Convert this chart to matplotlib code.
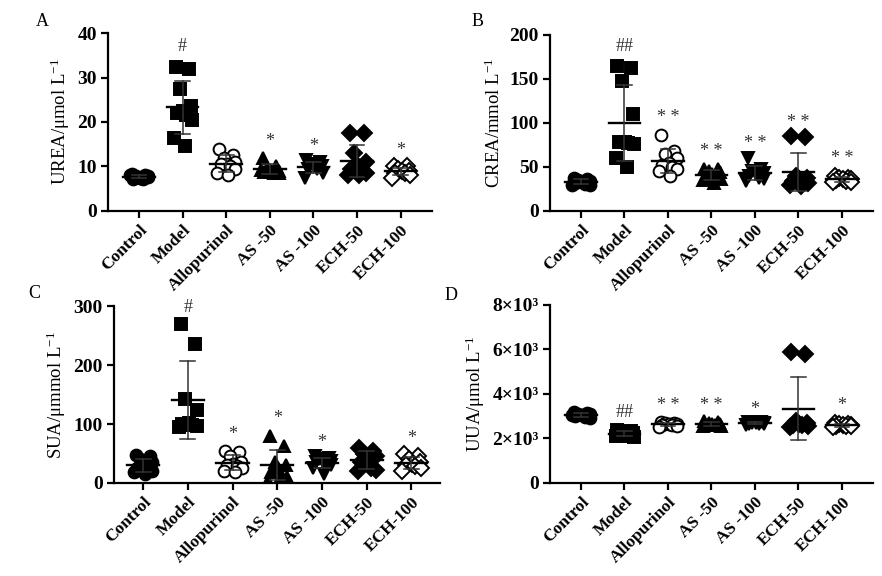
import matplotlib
matplotlib.use("Agg")
import matplotlib.pyplot as plt
import numpy as np

plt.rcParams['font.family'] = ['Liberation Serif', 'DejaVu Serif']
plt.rcParams['mathtext.fontset'] = 'custom'
plt.rcParams['mathtext.rm'] = 'Liberation Serif'
plt.rcParams['mathtext.it'] = 'Liberation Serif:italic'
plt.rcParams['mathtext.bf'] = 'Liberation Serif:bold'

groups = ["Control", "Model", "Allopurinol", "AS -50", "AS -100", "ECH-50", "ECH-100"]

# Panel A: UREA
urea = [
    [8.3, 8.0, 7.8, 7.6, 7.5, 7.3, 7.1, 7.9, 8.1, 7.4],
    [32.3, 32.0, 27.5, 23.5, 22.5, 22.0, 21.5, 20.5, 16.5, 14.5],
    [14.0, 12.5, 12.0, 11.0, 10.5, 10.5, 10.0, 9.5, 8.5, 8.0],
    [12.0, 10.0, 9.5, 9.0, 9.0, 8.8, 8.6, 8.5, 9.2],
    [11.5, 11.0, 10.5, 10.0, 10.0, 9.5, 9.5, 8.5, 7.5],
    [17.5, 17.5, 13.0, 11.0, 10.0, 9.5, 9.0, 8.5, 8.0, 8.0],
    [10.0, 10.0, 9.5, 9.0, 9.0, 8.5, 8.5, 8.0, 7.5],
]
urea_sig = ["", "#", "", "*", "*", "", "*"]
urea_sig_y = [0, 36.9, 0, 15.7, 14.6, 0, 13.5]

# Panel B: CREA
crea = [
    [38, 36, 35, 34, 33, 32, 31, 30, 30],
    [165, 163, 148, 110, 78, 78, 77, 76, 60, 50],
    [86, 68, 65, 60, 55, 52, 50, 48, 45, 40],
    [48, 48, 46, 44, 42, 40, 38, 36, 35, 32],
    [60, 48, 45, 43, 42, 40, 38, 36, 34],
    [85, 84, 40, 38, 36, 34, 33, 32, 30, 28],
    [40, 38, 37, 36, 36, 35, 34, 33, 33],
]
crea_sig = ["", "##", "* *", "* *", "* *", "* *", "* *"]
crea_sig_y = [0, 187, 106, 68, 77, 100, 60]

# Panel C: SUA
sua = [
    [48, 45, 40, 35, 30, 25, 22, 20, 18, 15],
    [270, 235, 142, 123, 101, 100, 99, 97, 95],
    [55, 52, 45, 35, 32, 30, 28, 25, 20, 18],
    [80, 62, 35, 30, 25, 18, 12, 10, 3],
    [45, 42, 40, 38, 36, 35, 33, 30, 25, 15],
    [60, 55, 50, 45, 40, 35, 25, 22, 20],
    [50, 45, 40, 35, 32, 30, 28, 25, 20],
]
sua_sig = ["", "#", "*", "*", "*", "", "*"]
sua_sig_y = [0, 297, 83, 110, 68, 0, 76]

# Panel D: UUA
uua = [
    [3200, 3150, 3100, 3100, 3050, 3000, 2950, 2900, 3050],
    [2400, 2350, 2300, 2250, 2200, 2150, 2100, 2050, 2100],
    [2750, 2700, 2700, 2650, 2650, 2600, 2600, 2550, 2500],
    [2800, 2750, 2700, 2650, 2650, 2600, 2600, 2550, 2550],
    [2750, 2720, 2700, 2700, 2680, 2660, 2650, 2640, 2620],
    [5900, 5800, 2800, 2700, 2650, 2600, 2600, 2550, 2500],
    [2700, 2650, 2650, 2600, 2600, 2580, 2550, 2550, 2500],
]
uua_sig = ["", "##", "* *", "* *", "*", "", "*"]
uua_sig_y = [0, 3190, 3460, 3460, 3325, 0, 3460]

markers = [
    dict(marker='o', mfc='black', mec='black'),
    dict(marker='s', mfc='black', mec='black'),
    dict(marker='o', mfc='white', mec='black'),
    dict(marker='^', mfc='black', mec='black'),
    dict(marker='v', mfc='black', mec='black'),
    dict(marker='D', mfc='black', mec='black'),
    dict(marker='D', mfc='white', mec='black'),
]
jitter = [-0.16, 0.15, -0.06, 0.2, 0.02, -0.13, 0.09, 0.21, -0.2, 0.05]

fig = plt.figure(figsize=(8.82, 5.76), dpi=100)

panels = [
    dict(rect=[0.1224, 0.6337, 0.367, 0.309], data=urea, sig=urea_sig, sigy=urea_sig_y,
         ylim=(0, 40), yticks=[0, 10, 20, 30, 40], ylabels=None,
         ylabel='UREA/μmol L$^{-1}$', letter='A', lpos=(36, 22), xlim=(-0.71, 6.71)),
    dict(rect=[0.6236, 0.6337, 0.366, 0.3056], data=crea, sig=crea_sig, sigy=crea_sig_y,
         ylim=(0, 200), yticks=[0, 50, 100, 150, 200], ylabels=None,
         ylabel='CREA/mmol L$^{-1}$', letter='B', lpos=(472, 21), xlim=(-0.71, 6.71)),
    dict(rect=[0.1293, 0.1615, 0.37, 0.307], data=sua, sig=sua_sig, sigy=sua_sig_y,
         ylim=(0, 300), yticks=[0, 100, 200, 300], ylabels=None,
         ylabel='SUA/μmmol L$^{-1}$', letter='C', lpos=(28, 294), xlim=(-0.65, 6.65)),
    dict(rect=[0.6236, 0.1615, 0.366, 0.309], data=uua, sig=uua_sig, sigy=uua_sig_y,
         ylim=(0, 8000), yticks=[0, 2000, 4000, 6000, 8000],
         ylabels=['0', '2×10³', '4×10³', '6×10³', '8×10³'],
         ylabel='UUA/μmol L$^{-1}$', letter='D', lpos=(445, 295), xlim=(-0.71, 6.71)),
]

for p in panels:
    ax = fig.add_axes(p['rect'])
    for i, vals in enumerate(p['data']):
        vals = np.asarray(vals, dtype=float)
        xs = i + np.array(jitter[:len(vals)])
        ax.plot(xs, vals, linestyle='none', ms=8.5, mew=1.4, zorder=3, **markers[i])
        m = vals.mean()
        sd = vals.std(ddof=1)
        ec = '#333333'
        ax.plot([i - 0.36, i + 0.36], [m, m], color='black', lw=1.7, zorder=4)
        ax.plot([i, i], [m - sd, m + sd], color=ec, lw=1.1, zorder=4)
        ax.plot([i - 0.17, i + 0.17], [m + sd, m + sd], color=ec, lw=1.1, zorder=4)
        ax.plot([i - 0.17, i + 0.17], [m - sd, m - sd], color=ec, lw=1.1, zorder=4)
        if p['sig'][i]:
            ax.text(i, p['sigy'][i], p['sig'][i], ha='center', va='center',
                    fontsize=13, color='#333333')
    ax.set_xlim(*p['xlim'])
    ax.set_ylim(*p['ylim'])
    ax.set_yticks(p['yticks'])
    if p['ylabels'] is not None:
        ax.set_yticklabels(p['ylabels'])
    ax.set_xticks(range(len(groups)))
    ax.set_xticklabels(groups, rotation=45, ha='right', rotation_mode='anchor',
                       fontweight='bold', fontsize=12.5)
    for lab in ax.get_yticklabels():
        lab.set_fontweight('bold')
        lab.set_fontsize(14)
    ax.spines['top'].set_visible(False)
    ax.spines['right'].set_visible(False)
    ax.spines['left'].set_linewidth(1.6)
    ax.spines['bottom'].set_linewidth(1.6)
    ax.tick_params(axis='both', width=1.6, length=5, pad=3)
    ax.set_ylabel(p['ylabel'], fontsize=13.5, labelpad=4)
    fig.text(p['lpos'][0] / 882, 1 - p['lpos'][1] / 576, p['letter'],
             fontsize=13, ha='left', va='center')

fig.savefig('out.png', dpi=100)
